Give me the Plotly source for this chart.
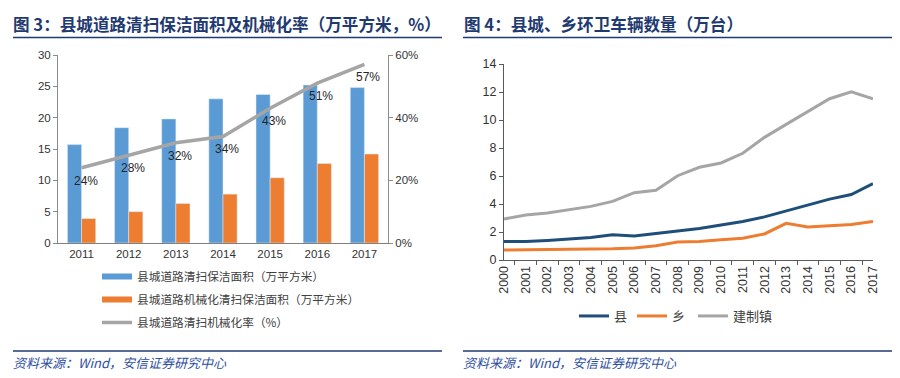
import plotly.graph_objects as go

# ---- Left chart data (图3) ----
years_l = ["2011", "2012", "2013", "2014", "2015", "2016", "2017"]
area_total = [15.7, 18.4, 19.8, 23.0, 23.7, 25.2, 24.8]
area_mech = [3.9, 5.0, 6.3, 7.8, 10.4, 12.7, 14.2]
mech_rate = [0.24, 0.28, 0.32, 0.34, 0.43, 0.51, 0.57]
mech_rate_labels = ["24%", "28%", "32%", "34%", "43%", "51%", "57%"]

# ---- Right chart data (图4) ----
years_r = [str(y) for y in range(2000, 2018)]
county = [1.33, 1.33, 1.40, 1.50, 1.60, 1.80, 1.72, 1.90, 2.05, 2.25, 2.50, 2.75, 3.08, 3.50, 3.95, 4.35, 4.68, 5.45]
township = [0.71, 0.71, 0.75, 0.77, 0.77, 0.80, 0.85, 1.02, 1.28, 1.33, 1.45, 1.55, 1.86, 2.62, 2.36, 2.42, 2.53, 2.76]
town = [2.93, 3.22, 3.36, 3.58, 3.83, 4.19, 4.81, 4.98, 6.02, 6.62, 6.93, 7.62, 8.76, 9.69, 10.62, 11.52, 12.02, 11.52]

BLUE = "#5B9BD5"
ORANGE = "#ED7D31"
GREY = "#A5A5A5"
NAVY = "#1F4E79"
TITLE_C = "#1F3A70"
SANS = "Liberation Sans"
TICKF = dict(family=SANS, size=11.5, color="#333333")
TICKF_R = dict(family=SANS, size=12.5, color="#333333")
CJK = "Noto Sans CJK SC"

fig = go.Figure()

# left chart bars
fig.add_trace(go.Bar(x=years_l, y=area_total, marker_color=BLUE, showlegend=False,
                     xaxis="x", yaxis="y"))
fig.add_trace(go.Bar(x=years_l, y=area_mech, marker_color=ORANGE, showlegend=False,
                     xaxis="x", yaxis="y"))
fig.add_trace(go.Scatter(x=years_l, y=mech_rate, mode="lines",
                         line=dict(color=GREY, width=3.5), showlegend=False,
                         xaxis="x", yaxis="y2"))
# data labels under the rate line (category axis -> serial index positions)
for i, (yv, lab) in enumerate(zip(mech_rate, mech_rate_labels)):
    fig.add_annotation(x=i, y=yv, xref="x", yref="y2", text=lab, showarrow=False,
                       xshift=4, yshift=-13, font=dict(family=SANS, size=12, color="#262626"))

# legend-only entries for left chart
fig.add_trace(go.Scatter(x=[None], y=[None], mode="lines", line=dict(color=BLUE, width=6),
                         name="县城道路清扫保洁面积（万平方米）", legend="legend", legendgroup="a",
                         xaxis="x", yaxis="y"))
fig.add_trace(go.Scatter(x=[None], y=[None], mode="lines", line=dict(color=ORANGE, width=6),
                         name="县城道路机械化清扫保洁面积（万平方米）", legend="legend", legendgroup="b",
                         xaxis="x", yaxis="y"))
fig.add_trace(go.Scatter(x=[None], y=[None], mode="lines", line=dict(color=GREY, width=3.5),
                         name="县城道路清扫机械化率（%）", legend="legend", legendgroup="c",
                         xaxis="x", yaxis="y"))

# right chart lines
fig.add_trace(go.Scatter(x=years_r, y=county, mode="lines", line=dict(color=NAVY, width=3),
                         name="县", legend="legend2", xaxis="x2", yaxis="y3"))
fig.add_trace(go.Scatter(x=years_r, y=township, mode="lines", line=dict(color=ORANGE, width=3),
                         name="乡\u00a0", legend="legend2", xaxis="x2", yaxis="y3"))
fig.add_trace(go.Scatter(x=years_r, y=town, mode="lines", line=dict(color=GREY, width=3),
                         name="建制镇", legend="legend2", xaxis="x2", yaxis="y3"))

W, H = 900, 378
OFF = 8  # page body margin
def px(x): return (x - OFF) / W
def py(y): return (H - (y - OFF)) / H

fig.update_layout(
    width=W, height=H, margin=dict(l=0, r=0, t=0, b=0, autoexpand=False),
    paper_bgcolor="white", plot_bgcolor="white",
    barmode="group", bargap=0.40, bargroupgap=0,
    xaxis=dict(domain=[px(58), px(388)], anchor="y", type="category", automargin=False,
               range=[-0.5, len(years_l) - 0.5],
               showline=True, linecolor="#7F7F7F", linewidth=1, ticks="",
               tickfont=TICKF, showgrid=False),
    yaxis=dict(domain=[py(243), py(55)], anchor="x", range=[0, 30], dtick=5, automargin=False,
               showline=True, linecolor="#8C8C8C", linewidth=1, ticks="outside", ticklen=4,
               tickcolor="#8C8C8C", tickfont=TICKF, showgrid=False, zeroline=False),
    yaxis2=dict(overlaying="y", side="right", anchor="x", range=[0, 0.6], dtick=0.2, automargin=False,
                tickformat=".0%", showline=True, linecolor="#8C8C8C", linewidth=1,
                ticks="outside", ticklen=4, tickcolor="#8C8C8C", tickfont=TICKF,
                showgrid=False, zeroline=False),
    xaxis2=dict(domain=[px(504), px(873)], anchor="y3", type="category", automargin=False,
                showline=True, linecolor="#595959", linewidth=1, ticks="outside", ticklen=4,
                tickcolor="#595959", tickson="boundaries", tickangle=-90, tickfont=TICKF_R,
                showgrid=False),
    yaxis3=dict(domain=[py(260), py(64)], anchor="x2", range=[0, 14], dtick=2, automargin=False,
                showline=True, linecolor="#595959", linewidth=1, ticks="outside", ticklen=4,
                tickcolor="#595959", tickfont=TICKF_R, showgrid=False, zeroline=False),
    legend=dict(x=px(97), y=py(262), xanchor="left", yanchor="top", orientation="v",
                font=dict(family=CJK, size=11.7, color="#404040"), tracegroupgap=4,
                bgcolor="rgba(0,0,0,0)"),
    legend2=dict(x=px(574), y=py(316), xanchor="left", yanchor="middle", orientation="h",
                 font=dict(family=CJK, size=13, color="#404040"),
                 bgcolor="rgba(0,0,0,0)"),
)

# titles
fig.add_annotation(x=px(11), y=py(24), xref="paper", yref="paper", xanchor="left", yanchor="middle",
                   text="<b>图 3：县城道路清扫保洁面积及机械化率（万平方米，%）</b>", showarrow=False,
                   font=dict(family=CJK, size=16.6, color=TITLE_C))
fig.add_annotation(x=px(462), y=py(24), xref="paper", yref="paper", xanchor="left", yanchor="middle",
                   text="<b>图 4：县城、乡环卫车辆数量（万台）</b>", showarrow=False,
                   font=dict(family=CJK, size=16.6, color=TITLE_C))
# sources
for x0 in (11, 461):
    fig.add_annotation(x=px(x0), y=py(362), xref="paper", yref="paper", xanchor="left", yanchor="middle",
                       text="<i>资料来源：Wind，安信证券研究中心</i>", showarrow=False,
                       font=dict(family=CJK, size=13, color="#2F4F9F"))
# rules
for (x0, x1) in ((13, 442), (463, 893)):
    for y in (37.5, 351):
        fig.add_shape(type="line", xref="paper", yref="paper", x0=px(x0), x1=px(x1), y0=py(y), y1=py(y),
                      line=dict(color=TITLE_C, width=1.5))

fig.write_html("out.html")
